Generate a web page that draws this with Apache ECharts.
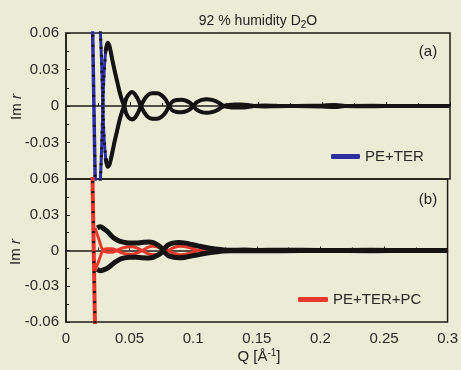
<!DOCTYPE html>
<html>
<head>
<meta charset="utf-8">
<title>Im r - 92 % humidity D2O</title>
<script src="https://cdn.jsdelivr.net/npm/echarts@6/dist/echarts.min.js"></script>
<style>
html,body{margin:0;padding:0;background:#ecebd6;}
#chart{width:461px;height:370px;}
</style>
</head>
<body>
<div id="chart"></div>
<script>
// tick labels
var xTicks = ['0', '0.05', '0.1', '0.15', '0.2', '0.25', '0.3'];
var yTicks = ['-0.06', '-0.03', '0', '0.03', '0.06'];

// steep edge near the critical Q (both panels)
var qEdge = [0.0206, 0.0230];
var edgeVal = [0.075, -0.075];

// panel (a) PE+TER, the two branches of Im r
var qA = [0.0262, 0.0275, 0.0285, 0.0295, 0.0310, 0.0325, 0.0340, 0.0360, 0.0380, 0.0400,
          0.0420, 0.0440, 0.0455, 0.0470, 0.0490, 0.0515, 0.0540, 0.0565, 0.0585, 0.0610,
          0.0640, 0.0675, 0.0710, 0.0745, 0.0780, 0.0805, 0.0830, 0.0865, 0.0900, 0.0935,
          0.0970, 0.0995, 0.1020, 0.1060, 0.1100, 0.1140, 0.1180, 0.1210, 0.1235, 0.1270,
          0.1320, 0.1370, 0.1420, 0.1470, 0.1550, 0.1650, 0.1800, 0.2000, 0.2100, 0.2180,
          0.2400, 0.2600, 0.2800, 0.3000];
var a1 = [-0.075, -0.045, -0.012, 0.022, 0.045, 0.052, 0.049, 0.039, 0.029, 0.020,
          0.011, 0.004, 0.0, -0.006, -0.0095, -0.011, -0.0095, -0.005, 0.0, 0.005,
          0.009, 0.0105, 0.0105, 0.009, 0.005, 0.0, -0.0035, -0.005, -0.0052, -0.0045,
          -0.0025, 0.0, 0.003, 0.005, 0.0055, 0.005, 0.0035, 0.0015, 0.0, -0.0008,
          -0.0012, -0.0012, -0.0008, 0.0, 0.0004, 0.0002, 0.0, -0.0004, -0.0008, 0.0,
          0.0002, 0.0, 0.0, 0.0];
var a2 = [0.075, 0.045, 0.012, -0.021, -0.043, -0.050, -0.048, -0.039, -0.029, -0.020,
          -0.011, -0.004, 0.0, 0.006, 0.0095, 0.0115, 0.0095, 0.005, 0.0, -0.005,
          -0.009, -0.0105, -0.0105, -0.009, -0.005, 0.0, 0.0035, 0.005, 0.0052, 0.0045,
          0.0025, 0.0, -0.003, -0.005, -0.0055, -0.005, -0.0035, -0.0015, 0.0, 0.0008,
          0.0012, 0.0012, 0.0008, 0.0, -0.0004, -0.0002, 0.0, 0.0004, 0.0008, 0.0,
          -0.0002, 0.0, 0.0, 0.0];

// panel (b) PE+TER+PC, measured points (black envelope)
var qB = [0.0245, 0.0270, 0.0300, 0.0330, 0.0360, 0.0390, 0.0420, 0.0460, 0.0500, 0.0550,
          0.0600, 0.0650, 0.0690, 0.0730, 0.0765, 0.0800, 0.0840, 0.0890, 0.0940, 0.0990,
          0.1040, 0.1090, 0.1140, 0.1190, 0.1240, 0.1300, 0.1400, 0.1500, 0.1700, 0.2000,
          0.2400, 0.2700, 0.3000];
var bUp = [0.019, 0.020, 0.018, 0.0155, 0.012, 0.0095, 0.0078, 0.0068, 0.0062, 0.0062,
           0.0068, 0.0072, 0.0065, 0.004, 0.001, 0.0045, 0.0062, 0.0068, 0.0062, 0.005,
           0.0038, 0.0027, 0.0018, 0.001, 0.0005, 0.0002, 0.0004, 0.0001, 0.0003, 0.0,
           0.0002, 0.0, 0.0];
var bLow = [-0.016, -0.017, -0.016, -0.0145, -0.012, -0.0095, -0.0075, -0.0062, -0.0056, -0.0056,
            -0.006, -0.0062, -0.0055, -0.0035, -0.001, -0.004, -0.0055, -0.006, -0.0056, -0.0045,
            -0.0035, -0.0025, -0.0017, -0.001, -0.0005, -0.0002, -0.0003, -0.0001, -0.0002, 0.0,
            -0.0002, 0.0, 0.0];

// panel (b) red curves inside the envelope
var qR = [0.0228, 0.0260, 0.0290, 0.0325, 0.0360, 0.0400, 0.0440, 0.0480, 0.0520, 0.0560,
          0.0600, 0.0640, 0.0680, 0.0720, 0.0760, 0.0800, 0.0850, 0.0900, 0.0950, 0.1000,
          0.1040, 0.1080, 0.1120, 0.1160, 0.1200, 0.1500, 0.2000, 0.2500, 0.3000];
var r1 = [0.019, 0.009, 0.0, -0.0015, -0.0015, 0.0, 0.002, 0.003, 0.0032, 0.002,
          0.0, -0.0025, -0.0035, -0.003, -0.0015, 0.0, 0.0025, 0.0035, 0.003, 0.0015,
          0.0, -0.001, -0.0012, -0.0005, 0.0, 0.0, 0.0, 0.0, 0.0];
var r2 = [-0.017, -0.008, 0.0, 0.0015, 0.0015, 0.0, -0.002, -0.003, -0.0032, -0.002,
          0.0, 0.0025, 0.0035, 0.003, 0.0015, 0.0, -0.0025, -0.0035, -0.003, -0.0015,
          0.0, 0.001, 0.0012, 0.0005, 0.0, 0.0, 0.0, 0.0, 0.0];

var FONT = '"Liberation Sans", Arial, sans-serif';
var INK = '#1e1e1a';
var BLUE = '#2c2fa0';
var RED = '#e8382c';
var DOTS = '#141414';

function pairs(xs, ys) {
    return xs.map(function (x, i) { return [x, ys[i]]; });
}

function xAxisFor(idx, showLabels) {
    return {
        type: 'value', gridIndex: idx, min: 0, max: 0.3, interval: 0.05,
        axisLine: { lineStyle: { color: INK, width: 1.5 } },
        axisTick: { inside: true, length: 4, lineStyle: { color: INK } },
        minorTick: { show: true, splitNumber: 2, length: 3, lineStyle: { color: INK } },
        splitLine: { show: false },
        axisLabel: {
            show: showLabels, margin: 9, color: '#2a2a2a', fontFamily: FONT, fontSize: 15,
            formatter: function (v) { return xTicks[Math.round(v / 0.05)]; }
        }
    };
}

function yAxisFor(idx, showMin) {
    return {
        type: 'value', gridIndex: idx, min: -0.06, max: 0.06, interval: 0.03,
        axisLine: { lineStyle: { color: INK, width: 1.5 } },
        axisTick: { inside: true, length: 4, lineStyle: { color: INK } },
        minorTick: { show: true, splitNumber: 2, length: 3, lineStyle: { color: INK } },
        splitLine: { show: false },
        axisLabel: {
            showMinLabel: showMin, margin: 7, color: '#2a2a2a', fontFamily: FONT, fontSize: 15,
            formatter: function (v) { return yTicks[Math.round(v / 0.03) + 2]; }
        }
    };
}

function line(name, data, idx, color, width, dash) {
    var s = {
        name: name, type: 'line', xAxisIndex: idx, yAxisIndex: idx,
        data: data, showSymbol: false, symbol: 'none', smooth: 0.3,
        silent: true, animation: false,
        itemStyle: { color: color },
        lineStyle: { color: color, width: width }
    };
    if (dash) { s.lineStyle.type = dash; s.smooth = false; }
    return s;
}

var chart = echarts.init(document.getElementById('chart'));

var option = {
    backgroundColor: '#ecebd6',
    animation: false,
    grid: [
        { left: 66, top: 33, width: 384, height: 146, show: true, borderColor: INK, borderWidth: 1.5, backgroundColor: 'transparent' },
        { left: 66, top: 179, width: 384, height: 143, show: true, borderColor: INK, borderWidth: 1.5, backgroundColor: 'transparent' }
    ],
    xAxis: [xAxisFor(0, false), xAxisFor(1, true)],
    yAxis: [yAxisFor(0, false), yAxisFor(1, true)],
    legend: [
        {
            data: ['PE+TER'], left: 326, top: 144, icon: 'roundRect', itemWidth: 29, itemHeight: 5,
            itemGap: 0, selectedMode: false,
            textStyle: { fontFamily: FONT, fontSize: 15, color: '#2a2a2a' }
        },
        {
            data: ['PE+TER+PC'], left: 293, top: 287, icon: 'roundRect', itemWidth: 30, itemHeight: 5,
            itemGap: 0, selectedMode: false,
            textStyle: { fontFamily: FONT, fontSize: 15, color: '#2a2a2a' }
        }
    ],
    series: [
        // (a) fitted curves in blue
        line('PE+TER', pairs(qEdge, edgeVal), 0, BLUE, 3.5),
        line('PE+TER', pairs(qA, a1), 0, BLUE, 3),
        line('PE+TER', pairs(qA, a2), 0, BLUE, 3),
        // (a) measured points
        line('dataA1', pairs(qA, a1).slice(4), 0, DOTS, 4),
        line('dataA2', pairs(qA, a2).slice(4), 0, DOTS, 4),
        line('dotsA0', pairs(qEdge, edgeVal), 0, DOTS, 3, [2, 8]),
        line('dotsA1', pairs(qA, a1).slice(0, 5), 0, DOTS, 3, [2, 6]),
        line('dotsA2', pairs(qA, a2).slice(0, 5), 0, DOTS, 3, [2, 6]),
        // (b) curves in red
        line('PE+TER+PC', pairs(qEdge, edgeVal), 1, RED, 4),
        line('PE+TER+PC', pairs(qR, r1), 1, RED, 3),
        line('PE+TER+PC', pairs(qR, r2), 1, RED, 3),
        // (b) measured points
        line('dataB1', pairs(qB, bUp), 1, DOTS, 5),
        line('dataB2', pairs(qB, bLow), 1, DOTS, 5),
        line('dotsB0', pairs(qEdge, edgeVal), 1, DOTS, 3, [2, 8])
    ],
    graphic: [
        {
            type: 'text', x: 258, y: 21,
            style: {
                text: '92 % humidity D{sub|2}O', fill: '#222', fontFamily: FONT, fontSize: 14,
                align: 'center', verticalAlign: 'middle',
                rich: { sub: { fontSize: 10, fontFamily: FONT, padding: [8, 0, 0, 0], fill: '#222' } }
            }
        },
        { type: 'text', x: 428, y: 52, style: { text: '(a)', fill: '#222', fontFamily: FONT, fontSize: 15, align: 'center', verticalAlign: 'middle' } },
        { type: 'text', x: 428, y: 200, style: { text: '(b)', fill: '#222', fontFamily: FONT, fontSize: 15, align: 'center', verticalAlign: 'middle' } },
        {
            type: 'text', x: 17, y: 107, rotation: Math.PI / 2,
            style: {
                text: 'Im {i|r}', fill: '#222', fontFamily: FONT, fontSize: 15, align: 'center', verticalAlign: 'middle',
                rich: { i: { fontStyle: 'italic', fontFamily: FONT, fontSize: 15, fill: '#222' } }
            }
        },
        {
            type: 'text', x: 16, y: 252, rotation: Math.PI / 2,
            style: {
                text: 'Im {i|r}', fill: '#222', fontFamily: FONT, fontSize: 15, align: 'center', verticalAlign: 'middle',
                rich: { i: { fontStyle: 'italic', fontFamily: FONT, fontSize: 15, fill: '#222' } }
            }
        },
        {
            type: 'text', x: 259, y: 357,
            style: {
                text: 'Q [Å{sup|-1}]', fill: '#222', fontFamily: FONT, fontSize: 15, align: 'center', verticalAlign: 'middle',
                rich: { sup: { fontSize: 10, fontFamily: FONT, padding: [0, 0, 8, 0], fill: '#222' } }
            }
        }
    ]
};

chart.setOption(option);
</script>
</body>
</html>
